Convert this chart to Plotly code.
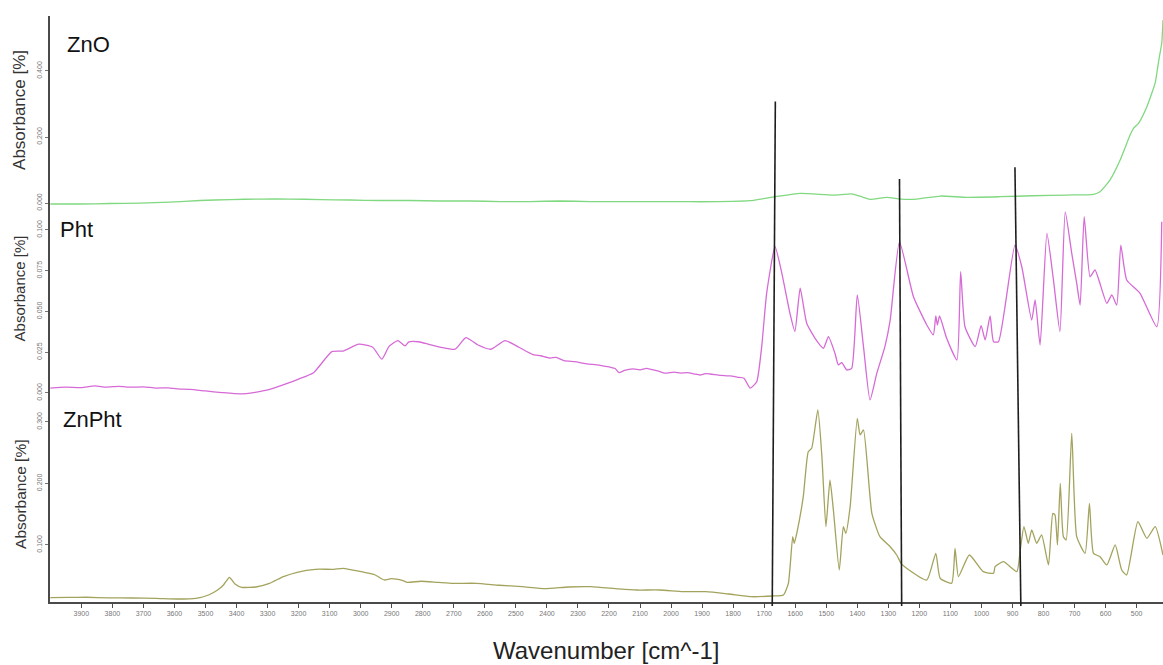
import plotly.graph_objects as go

# FTIR spectra: wavenumber [cm^-1] and absorbance for each sample
zno_wn = [4000, 3905, 3808, 3711, 3615, 3518, 3421, 3325, 3228, 3131, 3035, 2938, 2841,
          2745, 2648, 2551, 2455, 2358, 2261, 2165, 2068, 1971, 1907, 1746, 1664, 1584,
          1478, 1414, 1381, 1359, 1305, 1260, 1208, 1132, 1047, 940, 834, 725, 639, 618,
          586, 553, 521, 510, 494, 467, 440, 429, 419, 415]
zno_abs = [-0.0030, -0.0030, -0.0015, 0.0000, 0.0030, 0.0076, 0.0106, 0.0121, 0.0121,
           0.0106, 0.0091, 0.0076, 0.0076, 0.0061, 0.0061, 0.0045, 0.0045, 0.0061, 0.0045,
           0.0045, 0.0045, 0.0045, 0.0039, 0.0070, 0.0191, 0.0294, 0.0242, 0.0273, 0.0173,
           0.0112, 0.0173, 0.0121, 0.0121, 0.0212, 0.0173, 0.0191, 0.0221, 0.0242, 0.0264,
           0.0342, 0.0697, 0.1303, 0.2060, 0.2263, 0.2415, 0.2918, 0.3650, 0.4300, 0.4848,
           0.5545]

pht_wn = [4000, 3950, 3900, 3857, 3820, 3780, 3740, 3700, 3660, 3620, 3592, 3550, 3500,
          3447, 3387, 3340, 3299, 3241, 3200, 3152, 3093, 3057, 3006, 2961, 2932, 2909,
          2880, 2857, 2845, 2814, 2780, 2741, 2696, 2661, 2622, 2580, 2535, 2490, 2447,
          2420, 2390, 2370, 2345, 2310, 2290, 2271, 2240, 2220, 2197, 2180, 2168, 2150,
          2123, 2100, 2080, 2065, 2040, 2020, 1990, 1970, 1947, 1925, 1907, 1890, 1875,
          1840, 1810, 1785, 1765, 1745, 1724, 1708, 1692, 1665, 1643, 1617, 1601, 1584,
          1563, 1536, 1509, 1493, 1472, 1461, 1450, 1434, 1418, 1400, 1380, 1359, 1337,
          1311, 1294, 1264, 1219, 1176, 1155, 1147, 1142, 1135, 1112, 1079, 1067, 1053,
          1020, 1001, 988, 972, 961, 945, 892, 870, 838, 827, 811, 789, 768, 747, 730,
          709, 693, 682, 669, 650, 634, 596, 580, 564, 551, 532, 489, 435, 419]
pht_abs = [0.0029, 0.0035, 0.0033, 0.0043, 0.0036, 0.0040, 0.0035, 0.0037, 0.0030, 0.0031,
           0.0025, 0.0022, 0.0012, 0.0002, -0.0006, 0.0004, 0.0018, 0.0055, 0.0085, 0.0124,
           0.0253, 0.0257, 0.0299, 0.0280, 0.0207, 0.0284, 0.0321, 0.0288, 0.0313, 0.0314,
           0.0298, 0.0280, 0.0268, 0.0339, 0.0294, 0.0268, 0.0321, 0.0280, 0.0237, 0.0228,
           0.0214, 0.0218, 0.0198, 0.0192, 0.0185, 0.0178, 0.0172, 0.0166, 0.0158, 0.0150,
           0.0124, 0.0138, 0.0147, 0.0142, 0.0150, 0.0145, 0.0133, 0.0121, 0.0128, 0.0122,
           0.0124, 0.0116, 0.0110, 0.0118, 0.0116, 0.0108, 0.0104, 0.0096, 0.0090, 0.0029,
           0.0069, 0.0284, 0.0611, 0.0897, 0.0734, 0.0489, 0.0377, 0.0642, 0.0427, 0.0335,
           0.0274, 0.0345, 0.0243, 0.0172, 0.0186, 0.0141, 0.0151, 0.0601, 0.0284, -0.0043,
           0.0121, 0.0284, 0.0447, 0.0927, 0.0590, 0.0417, 0.0356, 0.0472, 0.0417, 0.0472,
           0.0335, 0.0202, 0.0744, 0.0406, 0.0284, 0.0413, 0.0325, 0.0472, 0.0314, 0.0314,
           0.0907, 0.0774, 0.0447, 0.0570, 0.0294, 0.0979, 0.0693, 0.0376, 0.1111, 0.0856,
           0.0672, 0.0539, 0.1081, 0.0713, 0.0754, 0.0550, 0.0601, 0.0539, 0.0907, 0.0693,
           0.0611, 0.0406, 0.1050]

znpht_wn = [4000, 3940, 3885, 3810, 3738, 3660, 3590, 3531, 3490, 3461, 3442, 3423, 3405,
            3383, 3338, 3294, 3249, 3205, 3146, 3087, 3057, 2998, 2953, 2924, 2902, 2864,
            2850, 2806, 2750, 2702, 2628, 2554, 2480, 2406, 2332, 2258, 2169, 2110, 2036,
            1961, 1888, 1814, 1740, 1674, 1638, 1622, 1608, 1603, 1595, 1574, 1558, 1547,
            1527, 1514, 1501, 1488, 1477, 1458, 1445, 1437, 1423, 1400, 1391, 1380, 1353,
            1327, 1294, 1273, 1259, 1241, 1176, 1147, 1133, 1096, 1085, 1074, 1039, 994,
            961, 956, 929, 886, 875, 863, 849, 838, 822, 806, 784, 770, 763, 755, 746, 736,
            727, 709, 693, 666, 652, 639, 618, 596, 569, 548, 532, 496, 467, 440, 415]
znpht_abs = [0.0143, 0.0148, 0.0150, 0.0141, 0.0138, 0.0132, 0.0122, 0.0133, 0.0187,
             0.0268, 0.0350, 0.0475, 0.0366, 0.0312, 0.0317, 0.0377, 0.0485, 0.0556, 0.0605,
             0.0605, 0.0621, 0.0566, 0.0512, 0.0431, 0.0452, 0.0420, 0.0393, 0.0410, 0.0392,
             0.0377, 0.0377, 0.0345, 0.0322, 0.0289, 0.0317, 0.0322, 0.0285, 0.0268, 0.0268,
             0.0241, 0.0241, 0.0203, 0.0159, 0.0171, 0.0187, 0.0377, 0.1135, 0.1028, 0.1190,
             0.1785, 0.2517, 0.2572, 0.3195, 0.2436, 0.1298, 0.2057, 0.1569, 0.0593, 0.1298,
             0.1190, 0.1623, 0.3060, 0.2789, 0.2870, 0.1515, 0.1135, 0.0972, 0.0837, 0.0702,
             0.0621, 0.0431, 0.0865, 0.0459, 0.0377, 0.0946, 0.0485, 0.0837, 0.0566, 0.0540,
             0.0647, 0.0728, 0.0566, 0.0919, 0.1298, 0.1028, 0.1244, 0.1028, 0.1163, 0.0675,
             0.1515, 0.1488, 0.1000, 0.2003, 0.1135, 0.1081, 0.2816, 0.1135, 0.0865, 0.1678,
             0.0865, 0.0810, 0.0675, 0.1000, 0.0593, 0.0512, 0.1379, 0.1109, 0.1298, 0.0837]

x_ticks = list(range(3900, 399, -100))

# Guide lines marking shared bands (wavenumber at top end, at bottom end)
guide_top_wn = [1664, 1264, 892]
guide_bottom_wn = [1674, 1257, 873]
guide_top_frac = [0.854, 0.722, 0.742]

FONT = "Liberation Sans, Arial, Helvetica, sans-serif"
AXIS_COLOR = "#4a4a4a"
TICK_COLOR = "#777777"

fig = go.Figure()
fig.add_trace(go.Scatter(x=znpht_wn, y=znpht_abs, mode="lines", name="ZnPht",
                         line=dict(color="#A3A35E", width=1.3, shape="spline", smoothing=0.5),
                         xaxis="x", yaxis="y"))
fig.add_trace(go.Scatter(x=pht_wn, y=pht_abs, mode="lines", name="Pht",
                         line=dict(color="#D66AD6", width=1.3, shape="spline", smoothing=0.5),
                         xaxis="x", yaxis="y2"))
fig.add_trace(go.Scatter(x=zno_wn, y=zno_abs, mode="lines", name="ZnO",
                         line=dict(color="#80D880", width=1.3, shape="spline", smoothing=0.5),
                         xaxis="x", yaxis="y3"))

yaxis_common = dict(
    showline=True, linecolor=AXIS_COLOR, linewidth=2, showgrid=False, zeroline=False,
    ticks="outside", ticklen=3, tickcolor=TICK_COLOR, tickwidth=1,
    tickfont=dict(family=FONT, size=7, color=TICK_COLOR), tickangle=-90,
    tickformat=".3f", anchor="x",
)

fig.update_layout(
    width=1163, height=665,
    margin=dict(l=50, r=0, t=16, b=63),
    paper_bgcolor="white", plot_bgcolor="white",
    showlegend=False,
    xaxis=dict(
        range=[4001, 415], showline=True, linecolor=AXIS_COLOR, linewidth=2,
        showgrid=False, zeroline=False, ticks="outside", ticklen=4,
        tickcolor=AXIS_COLOR, tickwidth=1, tickvals=x_ticks,
        ticktext=[str(t) for t in x_ticks],
        tickfont=dict(family=FONT, size=7, color=TICK_COLOR), anchor="y",
    ),
    yaxis=dict(domain=[0, 0.3362], range=[0.0073, 0.3276], dtick=0.1, **yaxis_common),
    yaxis2=dict(domain=[0.3362, 0.6689], range=[-0.0074, 0.1122], dtick=0.025, **yaxis_common),
    yaxis3=dict(domain=[0.6689, 1.0], range=[-0.0212, 0.5666], dtick=0.2, **yaxis_common),
)

for xt, xb, yt in zip(guide_top_wn, guide_bottom_wn, guide_top_frac):
    fig.add_shape(type="line", xref="x", yref="paper", x0=xb, y0=-0.007, x1=xt, y1=yt,
                  line=dict(color="#1e1e1e", width=1.6))

# Sample names inside each panel
for name, xp, yp in [("ZnO", 0.0135, 0.9522), ("Pht", 0.0072, 0.6357), ("ZnPht", 0.0099, 0.3106)]:
    fig.add_annotation(text=name, xref="paper", yref="paper", x=xp, y=yp,
                       xanchor="left", yanchor="middle", showarrow=False,
                       font=dict(family=FONT, size=22, color="#111111"))

# Y-axis titles for each panel
for yp, fs in [(0.8396, 17), (0.535, 15), (0.1843, 15.5)]:
    fig.add_annotation(text="Absorbance [%]", xref="paper", yref="paper", x=-0.027, y=yp,
                       xanchor="center", yanchor="middle", textangle=-90, showarrow=False,
                       font=dict(family=FONT, size=fs, color="#333333"))

fig.add_annotation(text="Wavenumber [cm^-1]", xref="paper", yref="paper", x=0.4996, y=-0.0836,
                   xanchor="center", yanchor="middle", showarrow=False,
                   font=dict(family=FONT, size=24, color="#222222"))

fig.write_html("out.html")
